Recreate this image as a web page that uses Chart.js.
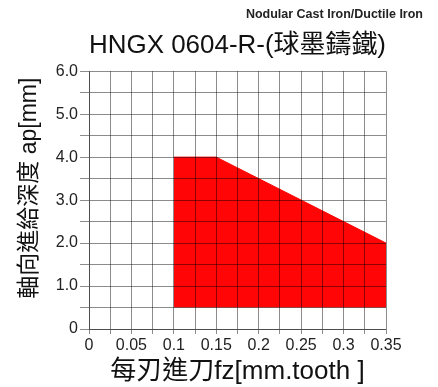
<!DOCTYPE html>
<html>
<head>
<meta charset="utf-8">
<script src="https://cdn.jsdelivr.net/npm/chart.js@4/dist/chart.umd.min.js"></script>
<style>
  body { margin: 0; background: #fff; }
</style>
</head>
<body>
<canvas id="chart" width="438" height="387"></canvas>
<script>
const fzValues = [0.1, 0.15, 0.35];
const apValues = [4.0, 4.0, 2.0];
const apFloor = 0.5;
const xTickLabels = ['0', '0.05', '0.1', '0.15', '0.2', '0.25', '0.3', '0.35'];
const yTickLabels = ['0', '1.0', '2.0', '3.0', '4.0', '5.0', '6.0'];

const FONT = "'Liberation Sans', Arial, 'Noto Sans CJK TC', sans-serif";
const gridColor = 'rgba(0, 0, 0, 0.45)';

// small note in the top right corner
const cornerNote = {
    id: 'cornerNote',
    afterDraw(chart) {
        const ctx = chart.ctx;
        ctx.save();
        ctx.font = 'bold 12.5px ' + FONT;
        ctx.fillStyle = '#222';
        ctx.textAlign = 'right';
        ctx.textBaseline = 'middle';
        ctx.fillText('Nodular Cast Iron/Ductile Iron', 423, 15);
        ctx.restore();
    }
};

const chartOptions = {
    responsive: false,
    animation: false,
    layout: {
        padding: { top: 25, right: 52, left: 0, bottom: 0 }
    },
    plugins: {
        legend: { display: false },
        tooltip: { enabled: false },
        title: {
            display: true,
            fullSize: false,
            text: 'HNGX 0604-R-(球墨鑄鐵)',
            color: '#111',
            font: { family: FONT, size: 26, weight: 'normal' },
            padding: { top: 5, bottom: 10 }
        }
    },
    scales: {
        x: {
            type: 'linear',
            min: 0,
            max: 0.35,
            afterFit: function(scale) { scale.height = 58; },
            // grid and border above the red area
            grid: { color: gridColor, z: 1, tickLength: 5 },
            border: { color: gridColor, z: 2 },
            ticks: {
                stepSize: 0.025,
                autoSkip: false,
                maxRotation: 0,
                padding: 2,
                color: '#222',
                font: { family: FONT, size: 16 },
                callback: function(value, index) {
                    return index % 2 === 0 ? xTickLabels[index / 2] : '';
                }
            },
            title: {
                display: true,
                text: '每刃進刀fz[mm.tooth ]',
                color: '#111',
                font: { family: FONT, size: 26 },
                padding: { top: 0, bottom: 0 }
            }
        },
        y: {
            min: 0,
            max: 6,
            afterFit: function(scale) { scale.width = 89; },
            grid: { color: gridColor, z: 1, tickLength: 9 },
            border: { color: gridColor, z: 2 },
            ticks: {
                stepSize: 0.5,
                autoSkip: false,
                padding: 2,
                color: '#222',
                font: { family: FONT, size: 16 },
                callback: function(value, index) {
                    return index % 2 === 0 ? yTickLabels[index / 2] : '';
                }
            },
            title: {
                display: true,
                align: 'end',
                text: '軸向進給深度 ap[mm] ',
                color: '#111',
                font: { family: FONT, size: 23 },
                padding: { top: 16, bottom: 0 }
            }
        }
    }
};

function formatRegion(xs, ys) {
    let data = [];
    xs.forEach(function(x, i) {
        data.push({ x: x, y: ys[i] });
    });
    return data;
}

function createChart() {
    const ctx = document.querySelector('#chart').getContext('2d');

    const configuration = {
        type: 'line',
        data: {
            datasets: [
                {
                    data: formatRegion(fzValues, apValues),
                    borderColor: '#ff0000',
                    borderWidth: 1,
                    backgroundColor: '#ff0505',
                    pointRadius: 0,
                    tension: 0,
                    fill: { value: apFloor }
                }
            ]
        },
        options: chartOptions,
        plugins: [cornerNote]
    };

    new Chart(ctx, configuration);
}

createChart();
</script>
</body>
</html>
